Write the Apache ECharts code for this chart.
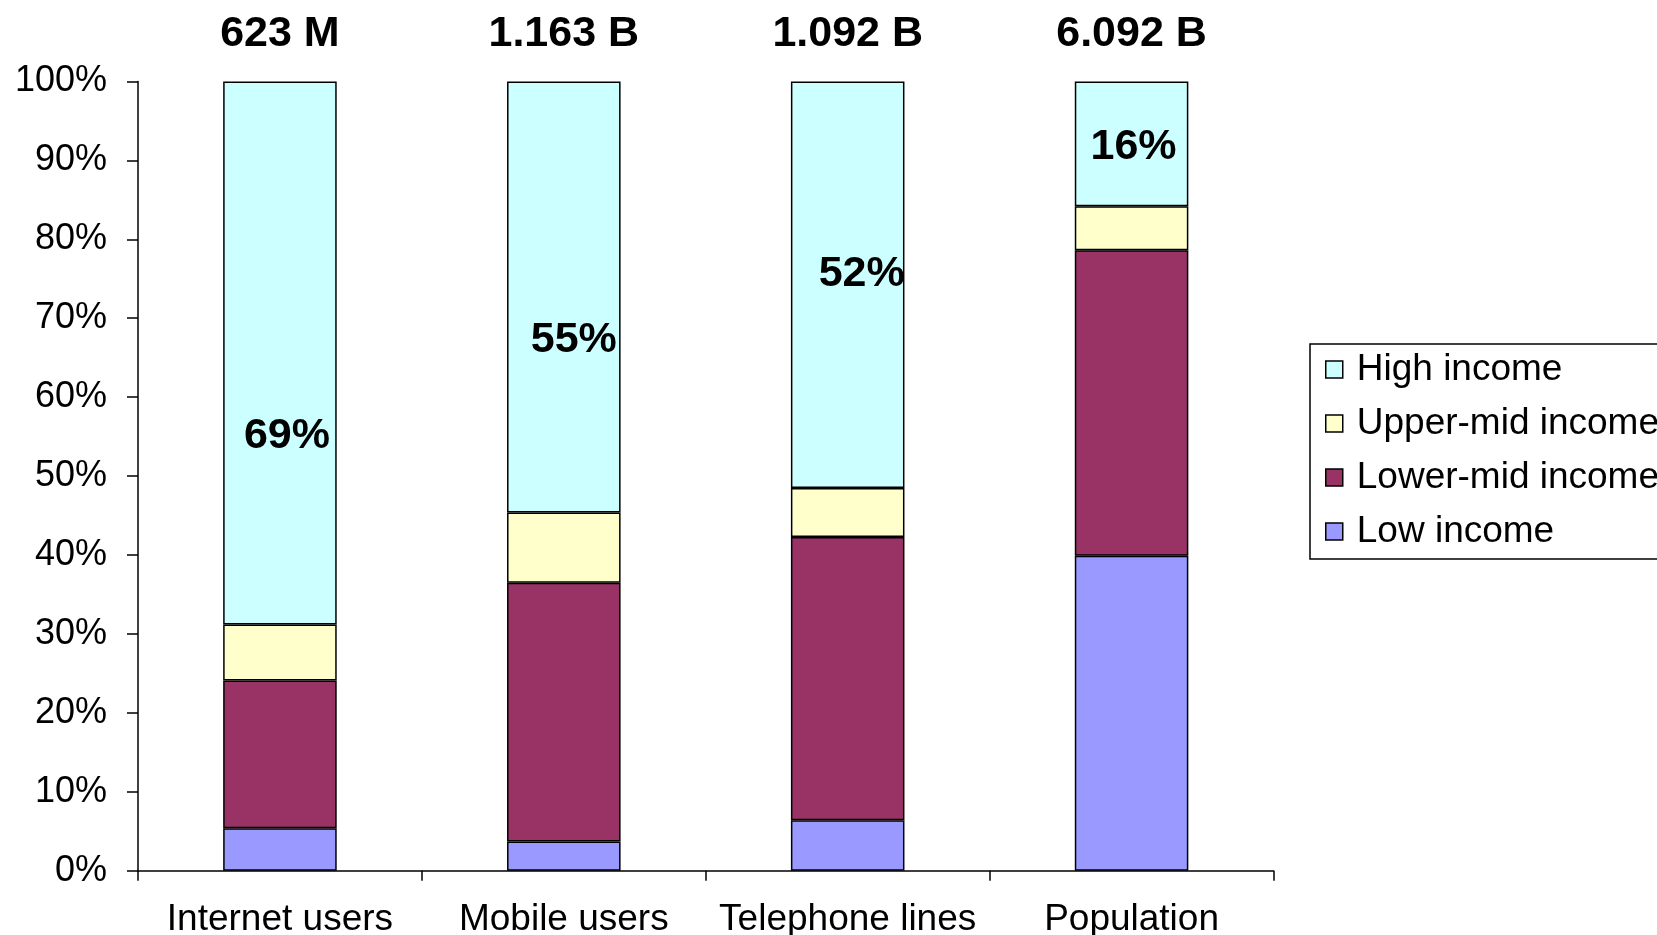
<!DOCTYPE html>
<html>
<head>
<meta charset="utf-8">
<script src="https://cdn.jsdelivr.net/npm/echarts@6/dist/echarts.min.js"></script>
<style>
  html, body { margin: 0; padding: 0; background: #fff; }
  #chart { width: 1657px; height: 935px; }
</style>
</head>
<body>
<div id="chart"></div>
<script>
// ---- data ----
const categories = ['Internet users', 'Mobile users', 'Telephone lines', 'Population'];
const totals = ['623 M', '1.163 B', '1.092 B', '6.092 B'];
const seriesNames = ['Low income', 'Lower-mid income', 'Upper-mid income', 'High income'];
const lowIncome = [5.4, 3.7, 6.4, 39.9];
const lowerMidIncome = [18.7, 32.8, 35.9, 38.7];
const upperMidIncome = [7.1, 8.9, 6.2, 5.6];
const highIncome = [68.8, 54.6, 51.5, 15.8];
const yTicks = [0, 10, 20, 30, 40, 50, 60, 70, 80, 90, 100];

// ---- styles ----
const colors = ['#9999FF', '#993366', '#FFFFCC', '#CCFFFF'];
const font = '"Liberation Sans", Arial, sans-serif';
const highLabelOffsets = [[7, 83], [10, 43], [14, -11], [2, 3]];

const seriesData = [lowIncome, lowerMidIncome, upperMidIncome, highIncome];

const chart = echarts.init(document.getElementById('chart'), null, { renderer: 'canvas' });

const series = seriesNames.map((name, i) => {
  const isHigh = i === 3;
  return {
    name: name,
    type: 'bar',
    stack: 'total',
    barWidth: '40%',
    xAxisIndex: 0,
    yAxisIndex: 0,
    itemStyle: { color: colors[i], borderColor: '#000', borderWidth: 1.5 },
    emphasis: { disabled: true },
    data: seriesData[i].map((v, j) => isHigh ? {
      value: v,
      label: {
        show: true,
        position: 'inside',
        offset: highLabelOffsets[j],
        formatter: (p) => Math.round(p.value) + '%',
        fontFamily: font,
        fontWeight: 'bold',
        fontSize: 43,
        color: '#000'
      }
    } : v)
  };
});

chart.setOption({
  animation: false,
  backgroundColor: '#fff',
  grid: { left: 138, right: 383.5, top: 81.4, bottom: 64.2, containLabel: false, outerBoundsMode: 'none' },
  xAxis: [
    {
      type: 'category',
      data: categories,
      position: 'bottom',
      axisLine: { lineStyle: { color: '#000', width: 1.5 } },
      axisTick: { show: true, interval: 0, length: 10, lineStyle: { color: '#000', width: 1.5 } },
      axisLabel: { interval: 0, color: '#000', fontFamily: font, fontSize: 37, margin: 30 }
    },
    {
      type: 'category',
      data: totals,
      position: 'top',
      axisLine: { show: false },
      axisTick: { show: false },
      axisLabel: { interval: 0, color: '#000', fontFamily: font, fontSize: 43, fontWeight: 'bold', margin: 26 }
    }
  ],
  yAxis: {
    type: 'value',
    min: yTicks[0],
    max: yTicks[yTicks.length - 1],
    interval: 10,
    axisLine: { show: true, lineStyle: { color: '#000', width: 1.5 } },
    axisTick: { show: true, length: 11, lineStyle: { color: '#000', width: 1.5 } },
    splitLine: { show: false },
    axisLabel: { color: '#000', fontFamily: font, fontSize: 36, margin: 31, formatter: '{value}%' }
  },
  legend: {
    orient: 'vertical',
    left: 1310,
    top: 344,
    data: ['High income', 'Upper-mid income', 'Lower-mid income', 'Low income'],
    icon: 'rect',
    itemWidth: 17,
    itemHeight: 17,
    itemGap: 17,
    padding: [7, 30, 9, 15],
    backgroundColor: '#fff',
    borderColor: '#000',
    borderWidth: 1.5,
    borderRadius: 0,
    itemStyle: { borderColor: '#000', borderWidth: 1.5 },
    textStyle: { color: '#000', fontFamily: font, fontSize: 37, padding: [0, 0, 0, 9] }
  },
  series: series
});
</script>
</body>
</html>
